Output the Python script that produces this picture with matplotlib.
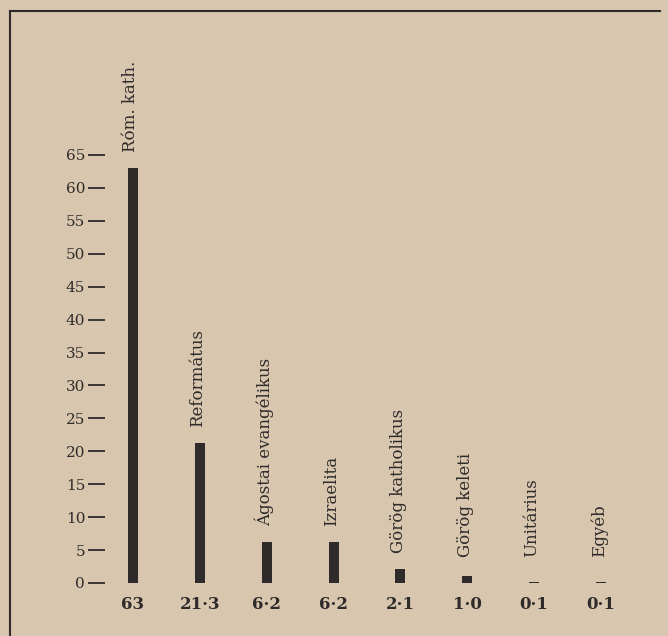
import matplotlib.pyplot as plt
from matplotlib.lines import Line2D

# Hungarian religion shares (%)
categories = ["Róm. kath.", "Református", "Ágostai evangélikus", "Izraelita",
              "Görög katholikus", "Görög keleti", "Unitárius", "Egyéb"]
values = [63, 21.3, 6.2, 6.2, 2.1, 1.0, 0.1, 0.1]
value_labels = ["63", "21·3", "6·2", "6·2", "2·1", "1·0", "0·1", "0·1"]
yticks = list(range(0, 70, 5))

paper = "#d8c7ae"
ink = "#2f2b2b"

W, H = 668, 636
fig = plt.figure(figsize=(W / 100, H / 100), dpi=100, facecolor=paper)

# axes starts where the tick dashes begin
left_px = 88
ax = fig.add_axes([left_px / W, 0, 1 - left_px / W, 1])
ax.set_facecolor(paper)

x = list(range(len(categories)))
ax.bar(x, values, width=0.15, color=ink, zorder=2)

ax.set_xlim(-0.673, 8.002)
ax.set_ylim(-8.05, 88.54)

ax.set_yticks(yticks)
ax.set_yticklabels([str(t) for t in yticks], family="DejaVu Serif",
                   fontsize=11, color=ink)
ax.tick_params(axis="y", direction="in", length=12.2, width=1.3,
               color=ink, pad=2)
ax.set_xticks([])
for s in ax.spines.values():
    s.set_visible(False)

for i, (name, v, lab) in enumerate(zip(categories, values, value_labels)):
    ax.text(i - 0.03, max(v + 2.4, 4.0), name, rotation=90, ha="center",
            va="bottom", family="DejaVu Serif", fontsize=12, color=ink)
    ax.text(i, -3.3, lab, ha="center", va="center", family="DejaVu Serif",
            fontsize=12, fontweight="bold", color=ink)

# border of the printed figure
fig.add_artist(Line2D([10 / W, 10 / W], [0, 1 - 11 / H], color=ink, lw=1.5))
fig.add_artist(Line2D([10 / W, 660 / W], [1 - 11 / H, 1 - 11 / H], color=ink, lw=1.5))

fig.savefig("out.png", dpi=100, facecolor=paper)
